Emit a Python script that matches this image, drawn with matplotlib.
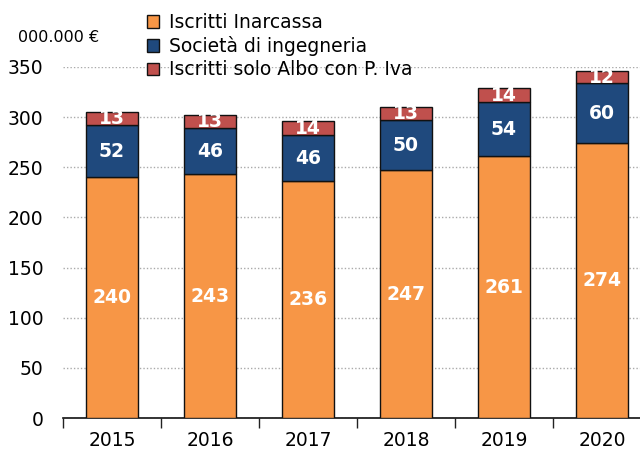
import matplotlib
matplotlib.use("Agg")
import matplotlib.pyplot as plt
import numpy as np
from matplotlib.patches import Patch

years = ["2015", "2016", "2017", "2018", "2019", "2020"]
inarcassa = [240, 243, 236, 247, 261, 274]
societa = [52, 46, 46, 50, 54, 60]
albo = [13, 13, 14, 13, 14, 12]

series_names = ["Iscritti Inarcassa", "Società di ingegneria", "Iscritti solo Albo con P. Iva"]
colors = ["#F79646", "#1F497D", "#C0504D"]

plt.rcParams['font.family'] = ['DejaVu Sans']

fig = plt.figure(figsize=(6.4, 4.54), dpi=100)
ax = fig.add_axes([63 / 640, 36 / 454, 1 - 63 / 640, 351 / 454])

x = np.arange(len(years))
width = 0.53
bottom = np.zeros(len(years))
for vals, col in zip([inarcassa, societa, albo], colors):
    ax.bar(x, vals, width, bottom=bottom, color=col, edgecolor="#111111",
           linewidth=1.0, zorder=3)
    for xi, b, v in zip(x, bottom, vals):
        ax.text(xi, b + v / 2, str(v), ha="center", va="center", color="white",
                fontsize=13.5, fontweight="bold", zorder=4)
    bottom += np.array(vals)

ax.set_yticks(np.arange(0, 351, 50))
ax.yaxis.grid(True, linestyle=(0, (1, 1.5)), color="#aaaaaa", linewidth=1.0, zorder=0)
ax.set_axisbelow(True)

ax.set_xticks(x)
ax.set_xticklabels(years)
ax.set_xticks(np.arange(-0.5, len(years) - 0.4, 1), minor=True)
ax.set_ylim(0, 350)
ax.set_xlim(-0.5, -0.5 + (640 - 63) / 98)
ax.tick_params(axis="x", which="major", length=0, pad=9, labelsize=13.5)
ax.tick_params(axis="x", which="minor", length=7, width=1, direction="out", color="#222222")
ax.tick_params(axis="y", length=0, pad=14, labelsize=13.5)

for s in ["top", "right", "left"]:
    ax.spines[s].set_visible(False)
ax.spines["bottom"].set_color("#111111")
ax.spines["bottom"].set_linewidth(1.2)

fig.text(18 / 640, 1 - 38 / 454, "000.000 €", fontsize=11.5, va="center", ha="left")

handles = [Patch(facecolor=c, edgecolor="#111111", linewidth=1.0) for c in colors]
fig.legend(handles, series_names, loc="upper left",
           bbox_to_anchor=(134 / 640, 1 - 0 / 454), frameon=False,
           fontsize=13.5, handlelength=0.65, handleheight=0.65,
           handletextpad=0.5, labelspacing=0.22, borderpad=0.2)

fig.savefig("out.png", dpi=100)
